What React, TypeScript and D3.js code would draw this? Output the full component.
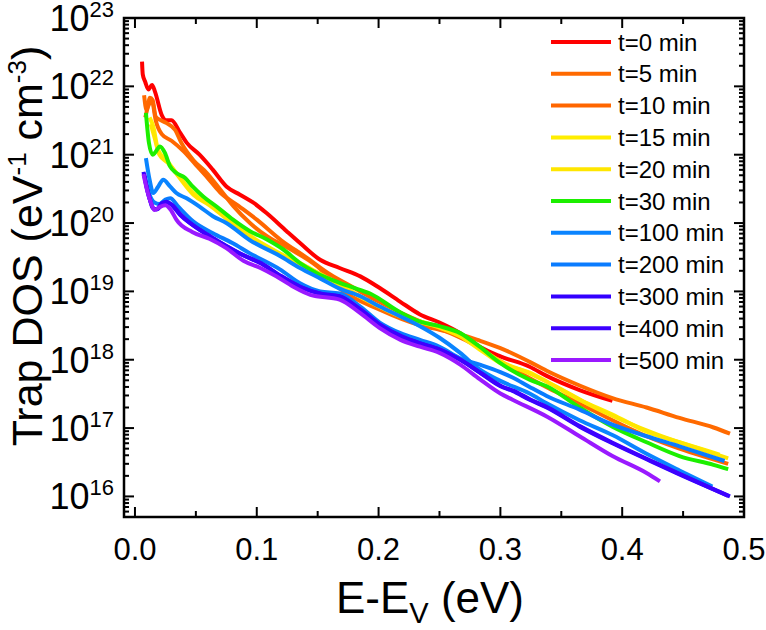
import React from 'react';
import * as d3 from 'd3';

const seriesLabels = ['t=0 min', 't=5 min', 't=10 min', 't=15 min', 't=20 min', 't=30 min', 't=100 min', 't=200 min', 't=300 min', 't=400 min', 't=500 min'];
const seriesColors = ['#ff0000', '#ff6a00', '#ff6600', '#ffee00', '#ffe600', '#1cef00', '#0a84ff', '#0a7cff', '#3300ff', '#3d00ff', '#9a19ff'];

const x_t0 = [0.0058, 0.0064, 0.0085, 0.011, 0.014, 0.0165, 0.022, 0.0255, 0.03, 0.037, 0.0424, 0.053, 0.064, 0.0753, 0.0862, 0.0969, 0.108, 0.1245, 0.1355, 0.152, 0.168, 0.185, 0.201, 0.2176, 0.234, 0.25, 0.267, 0.283, 0.3, 0.324, 0.338, 0.365, 0.392];
const y_t0 = [2.3e22, 1.5e22, 1.15e22, 9.0e21, 1.05e22, 8.3e21, 3.8e21, 3.2e21, 3.2e21, 2.1e21, 1.5e21, 1.0e21, 6.0e20, 3.4e20, 2.6e20, 2.0e20, 1.4e20, 7.6e19, 5.1e19, 2.9e19, 2.2e19, 1.66e19, 1.12e19, 7.1e18, 4.6e18, 3.5e18, 2.45e18, 1.55e18, 1.12e18, 7.9e17, 5.8e17, 3.6e17, 2.5e17];

const x_t5 = [0.0075, 0.0095, 0.0123, 0.0145, 0.017, 0.021, 0.026, 0.033, 0.038, 0.048, 0.059, 0.07, 0.081, 0.0944, 0.109, 0.127, 0.15, 0.168, 0.201, 0.234, 0.25, 0.267, 0.283, 0.3, 0.324, 0.338, 0.365, 0.392, 0.42, 0.447, 0.475, 0.4885];
const y_t5 = [7.4e21, 4.5e21, 6.8e21, 6.3e21, 3.6e21, 3.2e21, 2.9e21, 2.3e21, 1.5e21, 8.3e20, 5.4e20, 3.1e20, 1.75e20, 1.0e20, 6.3e19, 4.2e19, 2.3e19, 1.1e19, 5.4e18, 3.2e18, 2.75e18, 2.35e18, 1.9e18, 1.48e18, 9.3e17, 6.9e17, 4.2e17, 2.75e17, 2.0e17, 1.41e17, 1.02e17, 8.3e16];

const x_t10 = [0.0085, 0.011, 0.014, 0.017, 0.022, 0.03, 0.04, 0.05, 0.06, 0.07, 0.085, 0.1, 0.12, 0.14, 0.16, 0.18, 0.2, 0.22, 0.24, 0.26, 0.28, 0.3, 0.32, 0.34, 0.365, 0.392, 0.42, 0.447, 0.47, 0.487];
const y_t10 = [3.5e21, 5.2e21, 6.0e21, 3.2e21, 2.0e21, 1.6e21, 1.12e21, 7.1e20, 4.5e20, 2.8e20, 1.78e20, 1.12e20, 5.6e19, 3.2e19, 1.78e19, 1.12e19, 7.1e18, 4.7e18, 3.3e18, 2.4e18, 1.6e18, 9.5e17, 5.9e17, 3.8e17, 2.3e17, 1.3e17, 7.6e16, 5.0e16, 3.7e16, 3.0e16];

const x_t15 = [0.012, 0.015, 0.019, 0.026, 0.034, 0.048, 0.0616, 0.0753, 0.0917, 0.108, 0.1245, 0.1355, 0.152, 0.185, 0.218, 0.25, 0.267, 0.283, 0.3, 0.324, 0.338, 0.365, 0.392, 0.42, 0.447, 0.48];
const y_t15 = [3.5e21, 2.6e21, 1.17e21, 8.3e20, 5.4e20, 2.75e20, 1.95e20, 1.26e20, 7.1e19, 4.6e19, 3.2e19, 2.6e19, 1.78e19, 8.5e18, 4.3e18, 2.95e18, 2.2e18, 1.41e18, 8.9e17, 6.5e17, 4.8e17, 2.6e17, 1.58e17, 8.9e16, 6.2e16, 4.1e16];

const x_t20 = [0.013, 0.016, 0.02, 0.027, 0.035, 0.048, 0.0616, 0.0753, 0.0917, 0.108, 0.1245, 0.14, 0.16, 0.185, 0.218, 0.25, 0.27, 0.285, 0.3, 0.324, 0.35, 0.375, 0.4, 0.43, 0.46, 0.487];
const y_t20 = [2.8e21, 1.8e21, 1.0e21, 7.6e20, 5.0e20, 2.6e20, 1.8e20, 1.15e20, 6.8e19, 4.5e19, 3.1e19, 2.3e19, 1.5e19, 8.3e18, 4.4e18, 3.0e18, 2.1e18, 1.4e18, 9.5e17, 6.3e17, 3.7e17, 2.1e17, 1.3e17, 7.9e16, 5.2e16, 3.6e16];

const x_t30 = [0.009, 0.0115, 0.0145, 0.0165, 0.0205, 0.0245, 0.0287, 0.034, 0.041, 0.0475, 0.056, 0.067, 0.0805, 0.0944, 0.108, 0.1218, 0.1355, 0.149, 0.166, 0.177, 0.193, 0.218, 0.234, 0.25, 0.267, 0.283, 0.3, 0.324, 0.338, 0.365, 0.392, 0.42, 0.447, 0.475, 0.487];
const y_t30 = [4.1e21, 1.48e21, 1.0e21, 1.07e21, 1.32e21, 1.07e21, 6.8e20, 5.4e20, 4.6e20, 3.4e20, 2.45e20, 1.74e20, 1.12e20, 7.6e19, 5.8e19, 4.1e19, 2.6e19, 1.86e19, 1.38e19, 1.17e19, 9.3e18, 4.9e18, 3.6e18, 3.1e18, 2.45e18, 1.55e18, 8.9e17, 5.1e17, 4.1e17, 2.0e17, 1.05e17, 6.2e16, 3.9e16, 2.9e16, 2.5e16];

const x_t100 = [0.009, 0.012, 0.015, 0.019, 0.0232, 0.029, 0.034, 0.0424, 0.053, 0.064, 0.075, 0.0944, 0.119, 0.1355, 0.152, 0.168, 0.185, 0.201, 0.218, 0.234, 0.25, 0.267, 0.283, 0.3, 0.324, 0.338, 0.365, 0.392, 0.42, 0.447, 0.474];
const y_t100 = [8.9e20, 4.3e20, 2.75e20, 3.4e20, 4.3e20, 3.4e20, 2.75e20, 2.3e20, 1.74e20, 1.26e20, 1.0e20, 5.6e19, 3.3e19, 2.2e19, 1.55e19, 1.1e19, 8.5e18, 6.0e18, 4.3e18, 3.1e18, 2.1e18, 1.26e18, 7.2e17, 4.9e17, 3.2e17, 2.3e17, 1.3e17, 7.9e16, 4.2e16, 2.4e16, 1.4e16];

const x_t200 = [0.008, 0.012, 0.016, 0.02, 0.025, 0.029, 0.035, 0.048, 0.064, 0.08, 0.0944, 0.119, 0.1355, 0.152, 0.168, 0.185, 0.201, 0.218, 0.234, 0.25, 0.267, 0.283, 0.3, 0.31, 0.324, 0.338, 0.365, 0.392, 0.42, 0.447, 0.484];
const y_t200 = [4.8e20, 2.6e20, 2.0e20, 1.9e20, 2.2e20, 2.3e20, 1.78e20, 1.05e20, 7.1e19, 5.1e19, 3.6e19, 2.1e19, 1.32e19, 1.0e19, 9.3e18, 6.0e18, 3.5e18, 2.45e18, 1.95e18, 1.55e18, 1.05e18, 8.5e17, 6.6e17, 5.5e17, 4.0e17, 2.95e17, 1.86e17, 1.12e17, 7.6e16, 5.4e16, 3.3e16];

const x_t300 = [0.007, 0.0095, 0.0123, 0.0145, 0.0178, 0.0219, 0.026, 0.03, 0.037, 0.045, 0.0533, 0.064, 0.075, 0.086, 0.103, 0.119, 0.1355, 0.152, 0.168, 0.185, 0.201, 0.218, 0.234, 0.25, 0.267, 0.283, 0.3, 0.31, 0.324, 0.338, 0.365, 0.392, 0.42, 0.447, 0.4885];
const y_t300 = [5.6e20, 3.4e20, 2.2e20, 1.66e20, 1.58e20, 1.95e20, 2.05e20, 1.86e20, 1.32e20, 1.0e20, 7.9e19, 6.0e19, 4.6e19, 3.6e19, 2.6e19, 1.7e19, 1.17e19, 9.3e18, 8.5e18, 5.4e18, 3.2e18, 2.2e18, 1.74e18, 1.41e18, 1.0e18, 6.5e17, 4.1e17, 3.5e17, 2.6e17, 2.0e17, 1.05e17, 6.0e16, 3.5e16, 2.1e16, 1.0e16];

const x_t400 = [0.0075, 0.01, 0.013, 0.0155, 0.0185, 0.0225, 0.0265, 0.031, 0.038, 0.046, 0.054, 0.065, 0.076, 0.087, 0.104, 0.12, 0.136, 0.153, 0.169, 0.186, 0.202, 0.219, 0.235, 0.251, 0.268, 0.284, 0.301, 0.311, 0.325, 0.339, 0.366, 0.393, 0.421, 0.448, 0.487];
const y_t400 = [5.4e20, 3.1e20, 2.0e20, 1.62e20, 1.6e20, 1.9e20, 2.0e20, 1.8e20, 1.3e20, 9.8e19, 7.8e19, 5.9e19, 4.5e19, 3.5e19, 2.55e19, 1.68e19, 1.16e19, 9.2e18, 8.3e18, 5.3e18, 3.2e18, 2.2e18, 1.72e18, 1.4e18, 9.8e17, 6.4e17, 4.1e17, 3.5e17, 2.6e17, 2.0e17, 1.05e17, 6.0e16, 3.5e16, 2.1e16, 1.02e16];

const x_t500 = [0.007, 0.01, 0.0135, 0.016, 0.02, 0.025, 0.03, 0.034, 0.047, 0.061, 0.075, 0.089, 0.103, 0.116, 0.13, 0.144, 0.168, 0.185, 0.201, 0.218, 0.234, 0.25, 0.267, 0.283, 0.3, 0.31, 0.338, 0.365, 0.392, 0.42, 0.431];
const y_t500 = [5.2e20, 3.0e20, 1.9e20, 1.55e20, 1.7e20, 1.82e20, 1.5e20, 1.12e20, 7.4e19, 5.9e19, 4.3e19, 2.8e19, 2.2e19, 1.66e19, 1.17e19, 8.9e18, 7.6e18, 4.8e18, 2.9e18, 1.95e18, 1.55e18, 1.26e18, 8.5e17, 5.2e17, 3.2e17, 2.6e17, 1.48e17, 7.6e16, 3.9e16, 2.2e16, 1.66e16];

const seriesX = [x_t0, x_t5, x_t10, x_t15, x_t20, x_t30, x_t100, x_t200, x_t300, x_t400, x_t500];
const seriesY = [y_t0, y_t5, y_t10, y_t15, y_t20, y_t30, y_t100, y_t200, y_t300, y_t400, y_t500];

const xMajorTicks = [0, 0.1, 0.2, 0.3, 0.4, 0.5];
const xTickLabels = ['0.0', '0.1', '0.2', '0.3', '0.4', '0.5'];
const xMinorTicks = [0.05, 0.15, 0.25, 0.35, 0.45];
const yDecades = [16, 17, 18, 19, 20, 21, 22, 23];

const FONT = '"Liberation Sans", Arial, Helvetica, sans-serif';

export default function App() {
  const L = 124, R = 744, T = 18, B = 517;
  const x = d3.scaleLinear().domain([-0.009, 0.5]).range([L, R]);
  const y = d3.scaleLog().domain([5e15, 1e23]).range([B, T]);
  const line = d3
    .line<[number, number]>()
    .x((d) => x(d[0]))
    .y((d) => y(d[1]))
    .curve(d3.curveMonotoneX);

  const yMinor: number[] = [];
  for (let dcd = 15; dcd < 23; dcd++) {
    for (let k = 2; k <= 9; k++) {
      const v = k * Math.pow(10, dcd);
      if (v >= 5e15 && v <= 1e23) yMinor.push(v);
    }
  }
  const yMajor = yDecades.map((d) => Math.pow(10, d));

  const legendX1 = 551, legendX2 = 611, legendY0 = 42, legendDy = 31.8;

  return (
    <svg
      width={766}
      height={630}
      style={{ position: 'absolute', left: 0, top: 0, background: '#fff' }}
      fontFamily={FONT}
    >
      <rect x={0} y={0} width={766} height={630} fill="#fff" />
      <defs>
        <clipPath id="plotClip">
          <rect x={L} y={T} width={R - L} height={B - T} />
        </clipPath>
      </defs>

      <g clipPath="url(#plotClip)">
        {seriesX.map((xs, i) => {
          const pts = xs.map((xv, j) => [xv, seriesY[i][j]] as [number, number]);
          return (
            <path
              key={i}
              d={line(pts) || ''}
              fill="none"
              stroke={seriesColors[i]}
              strokeWidth={4}
              strokeLinejoin="round"
              strokeLinecap="butt"
            />
          );
        })}
      </g>

      <g stroke="#000" strokeWidth={2}>
        {xMajorTicks.map((t) => (
          <g key={'xm' + t}>
            <line x1={x(t)} x2={x(t)} y1={B} y2={B - 10} />
            <line x1={x(t)} x2={x(t)} y1={T} y2={T + 10} />
          </g>
        ))}
        {xMinorTicks.map((t) => (
          <g key={'xn' + t}>
            <line x1={x(t)} x2={x(t)} y1={B} y2={B - 6} />
            <line x1={x(t)} x2={x(t)} y1={T} y2={T + 6} />
          </g>
        ))}
        {yMajor.map((v) => (
          <g key={'ym' + v}>
            <line x1={L} x2={L + 10} y1={y(v)} y2={y(v)} />
            <line x1={R} x2={R - 10} y1={y(v)} y2={y(v)} />
          </g>
        ))}
        {yMinor.map((v) => (
          <g key={'yn' + v}>
            <line x1={L} x2={L + 5} y1={y(v)} y2={y(v)} />
            <line x1={R} x2={R - 5} y1={y(v)} y2={y(v)} />
          </g>
        ))}
      </g>

      <rect x={L} y={T} width={R - L} height={B - T} fill="none" stroke="#000" strokeWidth={2.5} />

      {xMajorTicks.map((t, i) => (
        <text key={'xl' + t} x={x(t)} y={560} textAnchor="middle" fontSize={31} fill="#000">
          {xTickLabels[i]}
        </text>
      ))}

      {yDecades.map((d) => (
        <text key={'yl' + d} x={114} y={y(Math.pow(10, d)) + 13} textAnchor="end" fontSize={36} fill="#000">
          10
          <tspan dy={-14} fontSize={22}>{String(d)}</tspan>
        </text>
      ))}

      <text x={430} y={613} textAnchor="middle" fontSize={44} fill="#000">
        E-E<tspan dy={10} fontSize={29}>V</tspan>
        <tspan dy={-10}> (eV)</tspan>
      </text>
      <text transform="translate(42,246) rotate(-90)" textAnchor="middle" fontSize={43} fill="#000">
        Trap DOS (eV<tspan dy={-16} fontSize={26}>-1</tspan>
        <tspan dy={16}> cm</tspan>
        <tspan dy={-16} fontSize={26}>-3</tspan>
        <tspan dy={16}>)</tspan>
      </text>

      {seriesLabels.map((lab, i) => {
        const ly = legendY0 + i * legendDy;
        return (
          <g key={'lg' + i}>
            <line x1={legendX1} x2={legendX2} y1={ly} y2={ly} stroke={seriesColors[i]} strokeWidth={4} />
            <text x={618} y={ly + 8.5} fontSize={24} fill="#000">
              {lab}
            </text>
          </g>
        );
      })}
    </svg>
  );
}
